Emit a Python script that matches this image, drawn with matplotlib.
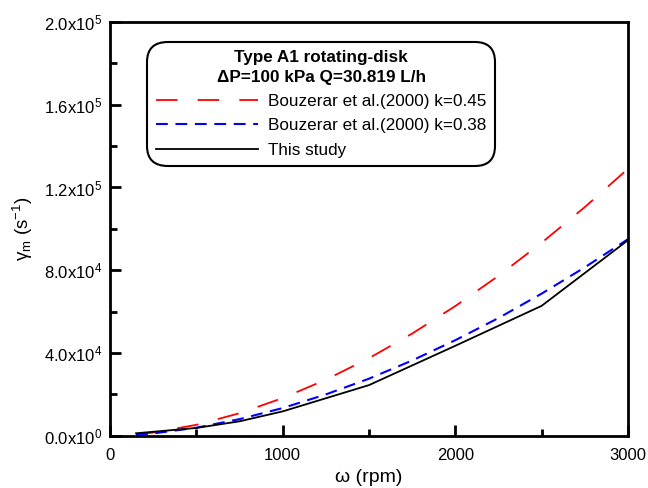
import matplotlib
matplotlib.use('Agg')
import matplotlib.pyplot as plt
from matplotlib.ticker import MultipleLocator, FuncFormatter

plt.rcParams['font.family'] = ['Liberation Sans', 'DejaVu Sans']
plt.rcParams['mathtext.fontset'] = 'custom'
plt.rcParams['mathtext.rm'] = 'Liberation Sans'
plt.rcParams['mathtext.it'] = 'Liberation Sans'
plt.rcParams['lines.scale_dashes'] = False

# ── Data ────────────────────────────────────────────────────────────────────
omega_bz = [150, 250, 500, 750, 1000, 1250, 1500, 1750, 2000, 2250, 2500, 2750, 3000]
gamma_k045 = [620, 1550, 5300, 10900, 18250, 27100, 37500, 49400, 62700, 77300, 93300, 110500, 129000]
gamma_k038 = [460, 1140, 3900, 8050, 13400, 20000, 27600, 36400, 46200, 56900, 68700, 81400, 95000]

omega_study = [150, 500, 750, 1000, 1500, 2000, 2500, 3000]
gamma_study = [1200, 3800, 7000, 11800, 24500, 43500, 62800, 94500]

LEGEND_TITLE = 'Type A1 rotating-disk\n\u0394P=100 kPa Q=30.819 L/h'

# ── Figure ──────────────────────────────────────────────────────────────────
fig = plt.figure(figsize=(6.48, 4.88), dpi=100)
ax = fig.add_axes([0.170, 0.107, 0.799, 0.848])

ax.plot(omega_bz, gamma_k045, color='#FF0000', lw=1.3,
        linestyle=(0, (15.5, 14.5)), label='Bouzerar et al.(2000) k=0.45')
ax.plot(omega_bz, gamma_k038, color='#0000FF', lw=1.5,
        linestyle=(0, (8.5, 5.5)), label='Bouzerar et al.(2000) k=0.38')
ax.plot(omega_study, gamma_study, color='black', lw=1.3,
        label='This study')

ax.set_xlim(0, 3000)
ax.set_ylim(0, 2.0e5)
ax.xaxis.set_major_locator(MultipleLocator(1000))
ax.xaxis.set_minor_locator(MultipleLocator(500))
ax.yaxis.set_major_locator(MultipleLocator(4e4))
ax.yaxis.set_minor_locator(MultipleLocator(2e4))


def sci_fmt(v, pos):
    if v == 0:
        return r'0.0x10$^{0}$'
    exp = len(str(int(v))) - 1
    return r'%.1fx10$^{%d}$' % (v / 10 ** exp, exp)


ax.yaxis.set_major_formatter(FuncFormatter(sci_fmt))

for s in ax.spines.values():
    s.set_linewidth(2.0)
ax.tick_params(which='major', direction='in', length=8, width=2.0,
               labelsize=12)
ax.tick_params(axis='x', which='major', pad=9)
ax.tick_params(axis='y', which='major', pad=6)
ax.tick_params(which='minor', direction='in', length=5, width=2.0)

ax.set_xlabel('\u03c9 (rpm)', fontsize=14, labelpad=4)
ax.set_ylabel(r'$\gamma_\mathrm{m}$ (s$^{-1}$)', fontsize=13.5, labelpad=6)

leg = ax.legend(title=LEGEND_TITLE, loc='upper left',
                bbox_to_anchor=(0.0714, 0.952), borderaxespad=0,
                fontsize=12.3,
                title_fontproperties={'weight': 'bold', 'size': 12.3},
                handlelength=6.0, handletextpad=0.6, labelspacing=0.55,
                borderpad=0.5, fancybox=True, framealpha=1)
leg.get_title().set_multialignment('center')
leg.get_title().set_linespacing(1.35)
frame = leg.get_frame()
frame.set_edgecolor('black')
frame.set_linewidth(1.5)
frame.set_boxstyle('round,pad=0,rounding_size=1.2')

fig.savefig('out.png', dpi=100, facecolor='white')
